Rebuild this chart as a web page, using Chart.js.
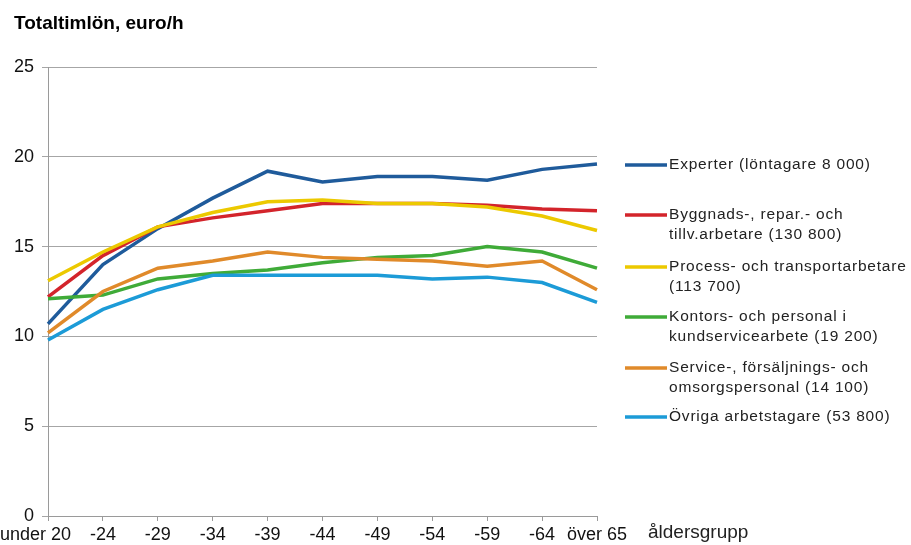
<!DOCTYPE html>
<html>
<head>
<meta charset="utf-8">
<script src="https://cdn.jsdelivr.net/npm/chart.js@4"></script>
<style>
  body { margin: 0; background: #fff; }
  #wrap { width: 911px; height: 545px; position: relative; }
</style>
</head>
<body>
<div id="wrap"><canvas id="wageChart"></canvas></div>
<script>
// Age groups (x axis)
const ageGroups = ['under 20', '-24', '-29', '-34', '-39', '-44', '-49', '-54', '-59', '-64', 'över 65'];

// Total hourly wage, euro/h
const experter  = [10.7, 14.0, 16.0, 17.7, 19.2, 18.6, 18.9, 18.9, 18.7, 19.3, 19.6];
const byggnads  = [12.2, 14.5, 16.1, 16.6, 17.0, 17.4, 17.4, 17.4, 17.3, 17.1, 17.0];
const process   = [13.1, 14.7, 16.1, 16.9, 17.5, 17.6, 17.4, 17.4, 17.2, 16.7, 15.9];
const kontors   = [12.1, 12.3, 13.2, 13.5, 13.7, 14.1, 14.4, 14.5, 15.0, 14.7, 13.8];
const service   = [10.2, 12.5, 13.8, 14.2, 14.7, 14.4, 14.3, 14.2, 13.9, 14.2, 12.6];
const ovriga    = [9.8, 11.5, 12.6, 13.4, 13.4, 13.4, 13.4, 13.2, 13.3, 13.0, 11.9];

const seriesLabels = [
  ['Experter (löntagare 8 000)'],
  ['Byggnads-, repar.- och', 'tillv.arbetare (130 800)'],
  ['Process- och transportarbetare', '(113 700)'],
  ['Kontors- och personal i', 'kundservicearbete (19 200)'],
  ['Service-, försäljnings- och', 'omsorgspersonal (14 100)'],
  ['Övriga arbetstagare (53 800)']
];
const seriesColors = ['#1f5b9b', '#d3242b', '#ecc900', '#3fab38', '#e08a2a', '#1c9bd7'];
const seriesValues = [experter, byggnads, process, kontors, service, ovriga];

const yTicks = [0, 5, 10, 15, 20, 25];

// legend rows: y of the line sample for each series
const legendY = [165, 215, 267, 317, 368, 417];

const FONT = '"Liberation Sans", Arial, sans-serif';

// draws title, x axis name and the legend at the side
const extras = {
  id: 'extras',
  afterDraw(chart) {
    const c = chart.ctx;
    c.save();
    c.fillStyle = '#000';
    c.font = 'bold 19px ' + FONT;
    c.textBaseline = 'middle';
    c.textAlign = 'left';
    c.fillText('Totaltimlön, euro/h', 14, 24);

    c.font = '19px ' + FONT;
    c.fillStyle = '#222';
    c.fillText('åldersgrupp', 648, 533);

    c.font = '15.5px ' + FONT;
    c.letterSpacing = '0.8px';
    seriesLabels.forEach((lines, i) => {
      const y = legendY[i];
      c.strokeStyle = seriesColors[i];
      c.lineWidth = 3.5;
      c.beginPath();
      c.moveTo(625, y);
      c.lineTo(667, y);
      c.stroke();
      c.fillStyle = '#222';
      lines.forEach((t, j) => c.fillText(t, 669, y + j * 19.5));
    });
    c.restore();
  }
};

new Chart(document.getElementById('wageChart').getContext('2d'), {
  type: 'line',
  data: {
    labels: ageGroups,
    datasets: seriesValues.map((vals, i) => ({
      label: seriesLabels[i].join(' '),
      data: vals,
      borderColor: seriesColors[i],
      backgroundColor: seriesColors[i],
      borderWidth: 3.5,
      pointRadius: 0,
      tension: 0,
      order: seriesValues.length - i
    }))
  },
  options: {
    responsive: true,
    maintainAspectRatio: false,
    animation: false,
    layout: { padding: { top: 67, right: 314, bottom: 0, left: 0 } },
    plugins: {
      legend: { display: false },
      title: { display: false },
      tooltip: { enabled: false }
    },
    scales: {
      x: {
        offset: false,
        grid: { drawOnChartArea: false, color: '#9a9a9a', tickLength: 5 },
        border: { color: '#9a9a9a', width: 1 },
        ticks: {
          color: '#111',
          font: { family: FONT, size: 18 },
          padding: 3,
          maxRotation: 0,
          autoSkip: false,
          // first label sits left of its tick, as in the original
          callback(value, index) {
            const l = this.getLabelForValue(value);
            return index === 0 ? l + '     ' : l;
          }
        },
        afterFit(scale) {
          scale.height = 29;
          scale.paddingLeft = 0;
          scale.paddingRight = 0;
        }
      },
      y: {
        min: 0,
        max: 25,
        afterBuildTicks(scale) { scale.ticks = yTicks.map(v => ({ value: v })); },
        grid: { color: '#a6a6a6', tickLength: 6 },
        border: { color: '#9a9a9a', width: 1 },
        ticks: {
          color: '#111',
          font: { family: FONT, size: 18 },
          padding: 8
        },
        afterFit(scale) { scale.width = 48; }
      }
    }
  },
  plugins: [extras]
});
</script>
</body>
</html>
